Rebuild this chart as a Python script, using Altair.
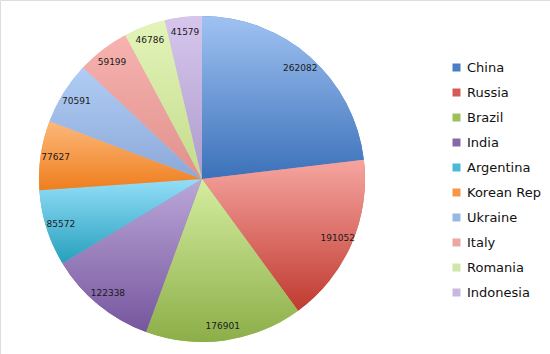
import altair as alt
import pandas as pd

countries = ["China", "Russia", "Brazil", "India", "Argentina", "Korean Rep",
             "Ukraine", "Italy", "Romania", "Indonesia"]
values = [262082, 191052, 176901, 122338, 85572, 77627, 70591, 59199, 46786, 41579]
legend_colors = ["#4a7fc8", "#d45a55", "#9dc05a", "#8568a8", "#4ab8d8", "#f79646",
                 "#97b8e6", "#eca6a4", "#cfe6a8", "#c8b8e0"]
grad_top = ["#a0c2f2", "#f6a5a0", "#d4eda0", "#bba7d8", "#94def8", "#fcb87a",
            "#b0cdf5", "#f7b3b0", "#e4f4ba", "#d7c6ec"]
grad_bottom = ["#3b71b9", "#c03a30", "#8cae48", "#76569e", "#26a0bd", "#ef7e1e",
               "#8ca8d8", "#e0918c", "#c2dc8a", "#ad9ccc"]

total = sum(values)
df = pd.DataFrame({"country": countries, "value": values, "idx": list(range(len(values)))})

CX, CY, R = 202, 179, 163
theta_scale = alt.Scale(domain=[0, total], range=[0, 6.283185307179586])

base = alt.Chart(df).transform_window(
    cum="sum(value)", sort=[alt.SortField("idx", order="ascending")], frame=[None, 0]
).transform_calculate(
    start="datum.cum - datum.value", mid="datum.cum - datum.value/2"
)

solid = base.mark_arc(outerRadius=R).encode(
    x=alt.value(CX), y=alt.value(CY),
    theta=alt.Theta("start:Q", scale=theta_scale),
    theta2="cum:Q",
    color=alt.Color("country:N", sort=countries,
                    scale=alt.Scale(domain=countries, range=legend_colors),
                    legend=alt.Legend(title=None, orient="none", legendX=450, legendY=61,
                                      symbolType="square", symbolSize=64,
                                      symbolStrokeWidth=0, labelFontSize=13,
                                      labelFont="DejaVu Sans", labelColor="#111111",
                                      rowPadding=11, labelOffset=4, labelLimit=120)),
)

layers = [solid]
for c, t, b in zip(countries, grad_top, grad_bottom):
    grad = alt.Gradient(gradient="linear", x1=0, y1=0, x2=0, y2=1,
                        stops=[alt.GradientStop(color=t, offset=0),
                               alt.GradientStop(color=b, offset=1)])
    layers.append(
        base.transform_filter(alt.datum.country == c).mark_arc(outerRadius=R, fill=grad).encode(
            x=alt.value(CX), y=alt.value(CY),
            theta=alt.Theta("start:Q", scale=theta_scale),
            theta2="cum:Q",
        )
    )

labels = base.mark_text(fontSize=9, font="DejaVu Sans", color="#1a1a1a").encode(
    x=alt.value(CX), y=alt.value(CY),
    theta=alt.Theta("mid:Q", scale=theta_scale),
    radius=alt.value(148),
    text="value:Q",
)
layers.append(labels)

chart = alt.layer(*layers).properties(
    width=550, height=354, autosize=alt.AutoSizeParams(type="none"), padding=0
).configure_view(stroke=None).configure(background="white")

chart.save("out.html", embed_options={"renderer": "svg", "actions": False})
